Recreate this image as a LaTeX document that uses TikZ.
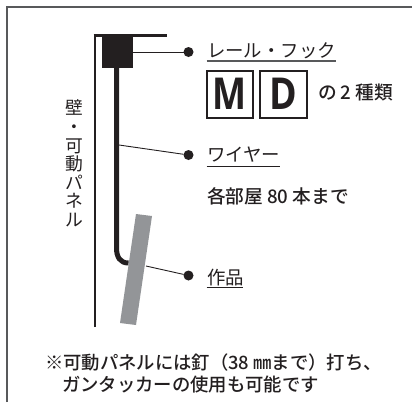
\documentclass[tikz,border=0pt]{standalone}
\usepackage{fontspec}
\setmainfont{Noto Sans CJK JP}
\newfontfamily\medfont{Noto Sans CJK JP Medium}
\newfontfamily\boldlat{Open Sans}[BoldFont={Open Sans Bold}]
\definecolor{ink}{HTML}{231F20}
\definecolor{framegray}{HTML}{58595B}
\definecolor{workgray}{HTML}{939598}
\tikzset{
  x=1pt,y=-1pt,
  every node/.style={text=ink,inner sep=0pt,outer sep=0pt},
  label/.style={anchor=west,font=\fontsize{18.4}{20}\selectfont},
  boldlabel/.style={anchor=west,font=\medfont\fontsize{18.7}{20}\selectfont},
  note/.style={anchor=west,font=\medfont\fontsize{18.35}{20}\selectfont},
  dot/.style={circle,fill=ink,minimum size=10pt},
  leader/.style={draw=ink,line width=0.9pt},
  uline/.style={draw=ink,line width=1pt},
  letterbox/.style={draw=ink,line width=2pt,fill=white,minimum width=46pt,minimum height=47pt,font=\boldlat\bfseries\fontsize{44}{44}\selectfont},
}
\begin{document}
\begin{tikzpicture}
\useasboundingbox (0,0) rectangle (412,402);
% frame
\draw[framegray,line width=2pt] (7,402) -- (7,6.5) -- (412,6.5);
% wall
\draw[ink,line width=2pt] (94.5,327) -- (94.5,35.5);
\draw[ink,line width=2.6pt] (93.5,35.5) -- (166.5,35.5);
% piece
\fill[workgray] (136,214) -- (152,216) -- (136,325) -- (120,323) -- cycle;
% wire
\draw[ink,line width=5pt] (116.5,66) -- (116.5,248) .. controls (116.5,257) and (120,263) .. (128.5,263);
% hook
\node[fill=ink,minimum width=31pt,minimum height=32pt] (hook) at (117.5,51.5) {};
\coordinate (wire) at (119,145);
\coordinate (work) at (146,266);
% dots
\node[dot] (d1) at (188.5,52) {};
\node[dot] (d2) at (188.5,155) {};
\node[dot] (d3) at (188.5,275.5) {};
\draw[leader] (hook.east |- d1) -- (d1);
\draw[leader] (wire) -- (d2);
\draw[leader] (work) -- (d3);
% wall label
\node[align=center,font=\fontsize{17.8}{18.6}\selectfont,anchor=north] (wall) at (74,100) {壁\\・\\可\\動\\パ\\ネ\\ル};
% labels
\node[label] (l1) at (207,51) {レール・フック};
\draw[uline,framegray,line width=1.4pt] (206.5,61) -- (336,61);
\node[letterbox] (M) at (230,94) {\scalebox{0.82}[1]{M}};
\node[letterbox,minimum width=47pt] (D) at (283,94) {\scalebox{0.85}[1]{D}};
\node[boldlabel] (n2) at (318,92) {の 2 種類};
\node[label] (l2) at (207,155) {ワイヤー};
\draw[uline] (206.5,166) -- (280,166);
\node[boldlabel] (l3) at (207,196) {各部屋 80 本まで};
\node[label] (l4) at (207,278) {作品};
\draw[uline] (206.5,287) -- (243,287);
% note
\node[note] (t1) at (45,363) {※可動パネルには釘（38 ㎜まで）打ち、};
\node[note] (t2) at (62,385) {ガンタッカーの使用も可能です};
\end{tikzpicture}
\end{document}
